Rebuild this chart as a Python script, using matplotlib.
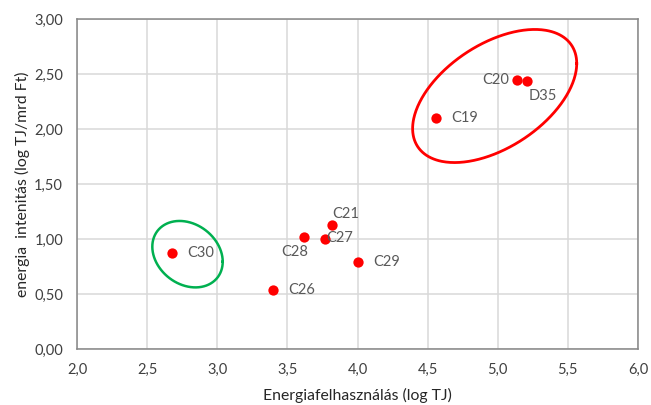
import numpy as np
import matplotlib
matplotlib.use("Agg")
import matplotlib.pyplot as plt
from matplotlib.ticker import FuncFormatter, MultipleLocator

# Sector data: energy use (log TJ) vs energy intensity (log TJ / bn Ft)
labels = ["C30", "C26", "C28", "C27", "C21", "C29", "C19", "C20", "D35"]
energy_use = [2.68, 3.395, 3.62, 3.77, 3.82, 4.00, 4.56, 5.14, 5.21]
intensity = [0.87, 0.535, 1.02, 1.00, 1.13, 0.79, 2.10, 2.45, 2.44]

# label offsets in points (dx, dy) and horizontal alignment
label_offsets = {
    "C30": (11, 0, "left"), "C26": (11, 0, "left"), "C28": (-7, -11, "center"),
    "C27": (1, 1, "left"), "C21": (10, 8, "center"), "C29": (11, 0, "left"),
    "C19": (11, 0, "left"), "C20": (-6, 0, "right"), "D35": (11, -11, "center"),
}

# group outlines: centre, half-width, half-height, correlation
red_group = dict(cx=4.978, cy=2.30, w=0.585, h=0.605, rho=0.489)
green_group = dict(cx=2.788, cy=0.862, w=0.251, h=0.302, rho=-0.226)

plt.rcParams["font.family"] = ["Lato", "DejaVu Sans"]

fig = plt.figure(figsize=(6.51, 4.05), dpi=100)
ax = fig.add_axes([77 / 651, 1 - 349 / 405, (638 - 77) / 651, (349 - 19) / 405])

ax.set_xlim(2.0, 6.0)
ax.set_ylim(0.0, 3.0)
ax.xaxis.set_major_locator(MultipleLocator(0.5))
ax.yaxis.set_major_locator(MultipleLocator(0.5))
ax.xaxis.set_major_formatter(FuncFormatter(lambda v, p: f"{v:.1f}".replace(".", ",")))
ax.yaxis.set_major_formatter(FuncFormatter(lambda v, p: f"{v:.2f}".replace(".", ",")))
ax.grid(True, color="#d9d9d9", linewidth=1.1)
ax.set_axisbelow(True)
for s in ax.spines.values():
    s.set_color("#868686")
    s.set_linewidth(1.1)
ax.tick_params(length=0, labelsize=10.5, colors="#404040", pad=10)

ax.scatter(energy_use, intensity, s=55, color="#ff0000", zorder=3, linewidths=0)

for lab, x, y in zip(labels, energy_use, intensity):
    dx, dy, ha = label_offsets[lab]
    ax.annotate(lab, (x, y), xytext=(dx, dy), textcoords="offset points",
                ha=ha, va="center", fontsize=10.5, color="#595959", zorder=4)

t = np.linspace(0, 2 * np.pi, 400)
for g, col, lw in [(red_group, "#ff0000", 2.0), (green_group, "#00b050", 1.8)]:
    phi = np.arccos(g["rho"])
    ex = g["cx"] + g["w"] * np.cos(t)
    ey = g["cy"] + g["h"] * np.cos(t - phi)
    ax.plot(ex, ey, color=col, linewidth=lw, zorder=2)

ax.set_xlabel("Energiafelhasználás (log TJ)", fontsize=11.3, color="#262626", labelpad=8)
ax.set_ylabel("energia  intenitás (log TJ/mrd Ft)", fontsize=11.3, color="#262626", labelpad=3)

fig.savefig("out.png", dpi=100, facecolor="white")
